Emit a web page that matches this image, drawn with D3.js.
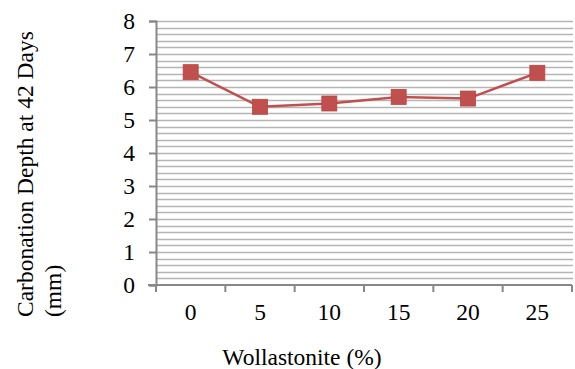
<!DOCTYPE html>
<html>
  <head>
    <meta charset="utf-8">
    <title>Carbonation Depth</title>
    <script src="https://d3js.org/d3.v7.min.js"></script>
    <style>
      body { margin: 0; background: #fff; }
      text { font-family: "Liberation Serif", "Times New Roman", serif; fill: #000; }
    </style>
  </head>
  <body>
    <div id="chart"></div>
    <script>
      var categories = ["0", "5", "10", "15", "20", "25"];
      var depths = [6.45, 5.4, 5.5, 5.7, 5.65, 6.43];
      var yTicks = [0, 1, 2, 3, 4, 5, 6, 7, 8];

      var width = 575, height = 369;
      var plotLeft = 156, plotRight = 572, plotTop = 21, plotBottom = 285;
      var fontSize = "23.5px";

      var svg = d3.select("#chart").append("svg")
                  .attr("width", width)
                  .attr("height", height);

      var x = d3.scaleBand().domain(categories).range([plotLeft, plotRight]);
      var y = d3.scaleLinear().domain([0, 8]).range([plotBottom, plotTop]);

      // minor gridlines every 0.2
      var gridVals = d3.range(1, 41).map(function(i) { return i * 0.2; });
      svg.append("g").selectAll("line")
         .data(gridVals)
         .enter().append("line")
         .attr("x1", plotLeft).attr("x2", plotRight + 1)
         .attr("y1", function(d) { return Math.round(y(d)) + 0.5; })
         .attr("y2", function(d) { return Math.round(y(d)) + 0.5; })
         .attr("stroke", "#b5b5b5")
         .attr("stroke-width", 1.6);

      // y axis
      var yAxis = svg.append("g")
         .attr("transform", "translate(" + plotLeft + ",0)")
         .call(d3.axisLeft(y).tickValues(yTicks).tickSize(7).tickPadding(14));
      yAxis.select(".domain").attr("stroke", "#888").attr("stroke-width", 2);
      yAxis.selectAll(".tick line").attr("stroke", "#888").attr("stroke-width", 2);
      yAxis.selectAll(".tick text")
           .style("font-size", fontSize)
           .style("font-family", "'Liberation Serif', serif");

      // x axis
      var xAxis = svg.append("g")
         .attr("transform", "translate(0," + plotBottom + ")")
         .call(d3.axisBottom(x).tickSize(0).tickPadding(18));
      xAxis.select(".domain").attr("stroke", "#888").attr("stroke-width", 2)
           .attr("d", "M" + (plotLeft - 8) + ",0H" + plotRight);
      xAxis.selectAll(".tick text")
           .style("font-size", fontSize)
           .style("font-family", "'Liberation Serif', serif");
      var bounds = categories.map(function(c) { return x(c); }).concat([plotRight]);
      svg.append("g").selectAll("line")
         .data(bounds)
         .enter().append("line")
         .attr("x1", function(d) { return d; }).attr("x2", function(d) { return d; })
         .attr("y1", plotBottom).attr("y2", plotBottom + 7)
         .attr("stroke", "#888").attr("stroke-width", 2);

      // series line
      var pts = categories.map(function(c, i) { return [x(c) + x.bandwidth() / 2, y(depths[i])]; });
      svg.append("path")
         .attr("d", d3.line()(pts))
         .attr("fill", "none")
         .attr("stroke", "#c0504d")
         .attr("stroke-width", 2.5);

      var m = 15;
      svg.append("g").selectAll("rect")
         .data(pts)
         .enter().append("rect")
         .attr("x", function(d) { return d[0] - m / 2; })
         .attr("y", function(d) { return d[1] - m / 2; })
         .attr("width", m).attr("height", m)
         .attr("fill", "#c0504d")
         .attr("stroke", "#b9443f")
         .attr("stroke-width", 0.8);

      // titles
      svg.append("text")
         .attr("x", 302).attr("y", 365)
         .attr("text-anchor", "middle")
         .style("font-size", fontSize)
         .text("Wollastonite (%)");

      var yTitle = svg.append("text")
         .attr("transform", "translate(0,317) rotate(-90)")
         .attr("text-anchor", "start")
         .style("font-size", fontSize);
      yTitle.append("tspan").attr("x", 0).attr("y", 33).text("Carbonation Depth at 42 Days");
      yTitle.append("tspan").attr("x", 0).attr("y", 61).text("(mm)");
    </script>
  </body>
</html>
